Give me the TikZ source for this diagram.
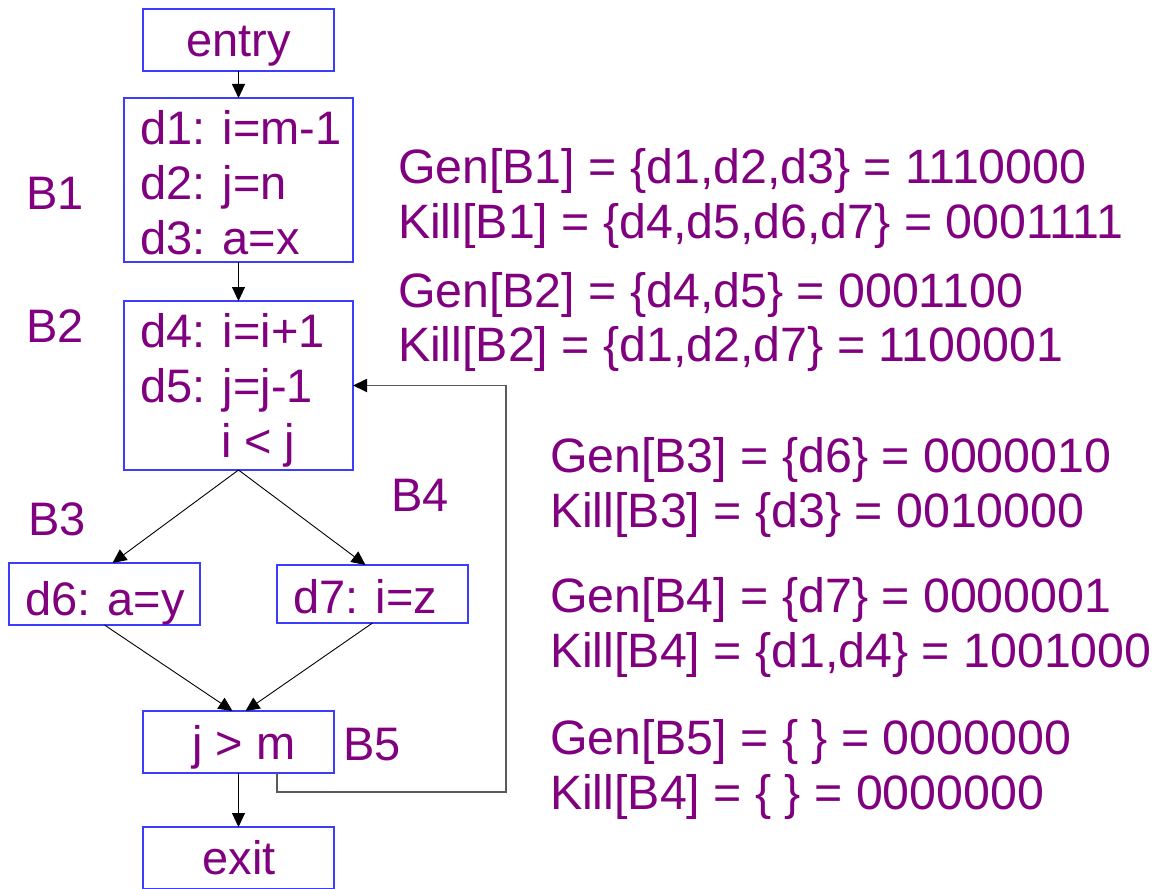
\documentclass[tikz,border=0pt]{standalone}
\usepackage{fontspec}
\setmainfont{Liberation Sans}
\usetikzlibrary{arrows.meta}
\definecolor{txtpurple}{RGB}{128,0,128}
\definecolor{boxblue}{RGB}{60,60,255}
\definecolor{loopgray}{RGB}{90,90,90}
\begin{document}
\begin{tikzpicture}[x=1pt,y=-1pt,
  bbox/.style={draw=boxblue,line width=1.3pt,fill=none,inner sep=0pt,outer sep=0pt},
  txt/.style={text=txtpurple,inner sep=0pt,outer sep=0pt,font=\fontsize{47}{55}\selectfont},
  settxt/.style={txt,anchor=base west,font=\fontsize{48.3}{55}\selectfont},
  flow/.style={draw=black,line width=0.9pt,-{Triangle[length=14pt,width=13pt]}},
  loopline/.style={draw=loopgray,line width=1.8pt,-{Triangle[length=14pt,width=13pt,color=black]}}]
\useasboundingbox[fill=white] (0,0) rectangle (1155,888);

% basic blocks
\node[bbox,minimum width=191,minimum height=62]  (entry) at (238.5,40)    {};
\node[bbox,minimum width=229,minimum height=164] (b1)    at (238.5,180)   {};
\node[bbox,minimum width=229,minimum height=169] (b2)    at (238.5,385.5) {};
\node[bbox,minimum width=191,minimum height=62]  (b3)    at (104.5,594)   {};
\node[bbox,minimum width=191,minimum height=58]  (b4)    at (372.5,594)   {};
\node[bbox,minimum width=191,minimum height=62]  (b5)    at (238.5,742)   {};
\node[bbox,minimum width=191,minimum height=62]  (exit)  at (238.5,858)   {};

% block contents
\node[txt,anchor=base] (tentry) at (238.5,57) {entry};
\node[txt,anchor=base west] (td1) at (140,144) {d1: i=m-1};
\node[txt,anchor=base west] (td2) at (140,199) {d2: j=n};
\node[txt,anchor=base west] (td3) at (140,254) {d3: a=x};
\node[txt,anchor=base west] (td4) at (140,347) {d4: i=i+1};
\node[txt,anchor=base west] (td5) at (140,402) {d5: j=j-1};
\node[txt,anchor=base west] (tcond) at (221,457) {i < j};
\node[txt,anchor=base west] (td6) at (25,615) {d6: a=y};
\node[txt,anchor=base west] (td7) at (293,613) {d7: i=z};
\node[txt,anchor=base] (tjm) at (244,759) {j > m};
\node[txt,anchor=base] (texit) at (239,874) {exit};

% block labels
\node[txt,anchor=base] (lb1) at (55,209) {B1};
\node[txt,anchor=base] (lb2) at (55,342) {B2};
\node[txt,anchor=base] (lb3) at (57,535) {B3};
\node[txt,anchor=base] (lb4) at (420,511) {B4};
\node[txt,anchor=base] (lb5) at (372,760) {B5};

% gen / kill sets
\node[settxt] (gen1)  at (398,183) {Gen[B1] = \{d1,d2,d3\} = 1110000};
\node[settxt] (kill1) at (398,238) {Kill[B1] = \{d4,d5,d6,d7\} = 0001111};
\node[settxt] (gen2)  at (398,307) {Gen[B2] = \{d4,d5\} = 0001100};
\node[settxt] (kill2) at (398,361) {Kill[B2] = \{d1,d2,d7\} = 1100001};
\node[settxt] (gen3)  at (550,472) {Gen[B3] = \{d6\} = 0000010};
\node[settxt] (kill3) at (550,527) {Kill[B3] = \{d3\} = 0010000};
\node[settxt] (gen4)  at (550,612) {Gen[B4] = \{d7\} = 0000001};
\node[settxt] (kill4) at (550,667) {Kill[B4] = \{d1,d4\} = 1001000};
\node[settxt] (gen5)  at (550,754) {Gen[B5] = \{ \} = 0000000};
\node[settxt] (kill5) at (550,809) {Kill[B4] = \{ \} = 0000000};

% control flow edges
\draw[flow] (entry.south) -- (b1.north);
\draw[flow] (b1.south) -- (b2.north);
\draw[flow] (b2.south) -- ([xshift=8pt]b3.north);
\draw[flow] (b2.south) -- ([xshift=-7pt]b4.north);
\draw[flow] (b3.south) -- ([xshift=-6pt]b5.north);
\draw[flow] (b4.south) -- ([xshift=7pt]b5.north);
\draw[flow] (b5.south) -- (exit.north);

% back edge B5 -> B2
\coordinate (loopout) at ([xshift=38.5pt]b5.south);
\coordinate (loopcorner) at (506,792);
\draw[loopline] (loopout) |- (loopcorner) |- (b2.east);
\end{tikzpicture}
\end{document}
